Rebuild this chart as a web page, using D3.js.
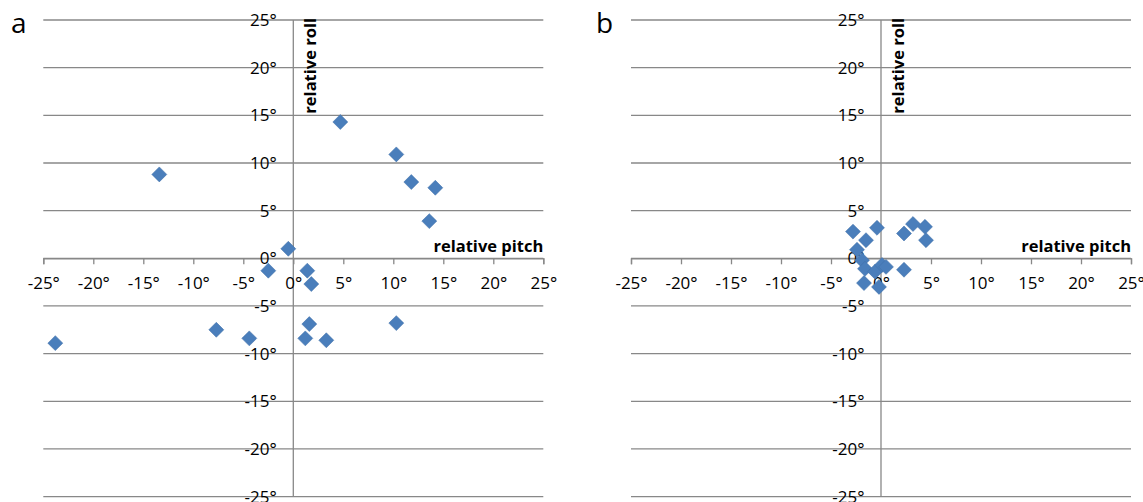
<!DOCTYPE html>
<html>
<head>
<meta charset="utf-8">
<script src="https://cdn.jsdelivr.net/npm/d3@7"></script>
<style>
  body { margin: 0; background: #fff; }
  svg text { font-family: "Open Sans", "Noto Sans", sans-serif; fill: #000; }
</style>
</head>
<body>
<svg id="chart" width="1143" height="502"></svg>
<script>
// tick values, shared by both panels
var axisTicks = [-25, -20, -15, -10, -5, 0, 5, 10, 15, 20, 25];

// panel a: relative pitch / relative roll (degrees)
var pitchA = [4.7, 10.3, -13.4, 11.8, 14.2, 13.6, -0.5, -2.5, 1.4, 1.8, -7.7, 1.6, 10.3, -4.4, 1.2, 3.3, -23.8];
var rollA  = [14.3, 10.9, 8.8, 8.0, 7.4, 3.9, 1.0, -1.3, -1.3, -2.7, -7.5, -6.9, -6.8, -8.4, -8.4, -8.6, -8.9];

// panel b
var pitchB = [-2.8, -1.5, -0.4, -2.4, -1.9, -1.6, -1.7, -0.2, -0.6, 0.1, 0.5, 2.3, 2.3, 3.2, 4.4, 4.5];
var rollB  = [2.8, 1.9, 3.2, 0.9, -0.2, -1.1, -2.6, -3.0, -1.4, -0.7, -0.9, -1.2, 2.6, 3.6, 3.3, 1.9];

var panels = [
    {letter: "a", pitch: pitchA, roll: rollA, left: 43.3, letterX: 11},
    {letter: "b", pitch: pitchB, roll: rollB, left: 631, letterX: 596}
];

var svg = d3.select("#chart");
var gridColor = "#888888";
var markerFill = "#4a7ebb";

panels.forEach(function(p){
    var x = d3.scaleLinear().domain([-25, 25]).range([p.left, p.left + 500]);
    var y = d3.scaleLinear().domain([-25, 25]).range([496.6, 20]);
    var g = svg.append("g");

    // horizontal gridlines
    g.selectAll(".grid").data(axisTicks).enter()
	.append("line").attr("class", "grid")
	.attr("x1", x(-25)).attr("x2", x(25))
	.attr("y1", function(d){return y(d);})
	.attr("y2", function(d){return y(d);})
	.attr("stroke", gridColor).attr("stroke-width", 1.3);

    // vertical axis (roll) at pitch = 0
    g.append("line")
	.attr("x1", x(0)).attr("x2", x(0))
	.attr("y1", y(25)).attr("y2", y(-25))
	.attr("stroke", gridColor).attr("stroke-width", 1.3);

    // x axis at roll = 0, ticks pointing down
    var xAxis = d3.axisBottom(x).tickValues(axisTicks).tickSize(6).tickPadding(13)
	.tickFormat(function(d){return d + "°";});
    var gx = g.append("g").attr("transform", "translate(0," + y(0) + ")").call(xAxis);
    gx.select(".domain").attr("stroke", gridColor).attr("stroke-width", 1.3);
    gx.selectAll(".tick line").attr("stroke", gridColor).attr("stroke-width", 1.3);
    gx.selectAll(".tick text").attr("font-size", 17)
	.attr("font-family", "'Open Sans', sans-serif").attr("fill", "#000");

    // y tick labels sit left of the roll axis, no tick marks
    g.selectAll(".ylab").data(axisTicks).enter()
	.append("text").attr("class", "ylab")
	.attr("x", x(0) - 16.5)
	.attr("y", function(d){return y(d) + 6;})
	.attr("text-anchor", "end")
	.attr("font-size", 17)
	.text(function(d){return d + "°";});

    // axis titles
    g.append("text")
	.attr("x", x(25)).attr("y", y(0) - 6)
	.attr("text-anchor", "end")
	.attr("font-size", 16.5).attr("font-weight", "bold")
	.text("relative pitch");

    g.append("text")
	.attr("transform", "translate(" + (x(0) + 23) + "," + 18 + ") rotate(-90)")
	.attr("text-anchor", "end")
	.attr("font-size", 16.5).attr("font-weight", "bold")
	.text("relative roll");

    // panel letter
    g.append("text")
	.attr("x", p.letterX).attr("y", 33)
	.attr("font-size", 28)
	.text(p.letter);

    // diamonds
    var pts = p.pitch.map(function(v, i){return {px: v, ry: p.roll[i]};});
    var diamond = d3.symbol().type(d3.symbolSquare).size(112);
    g.selectAll(".pt").data(pts).enter()
	.append("path").attr("class", "pt")
	.attr("d", diamond)
	.attr("transform", function(d){
	    return "translate(" + x(d.px) + "," + y(d.ry) + ") rotate(45)";
	})
	.attr("fill", markerFill)
	.attr("stroke", "#3f6fa8").attr("stroke-width", 0.5);
});
</script>
</body>
</html>
